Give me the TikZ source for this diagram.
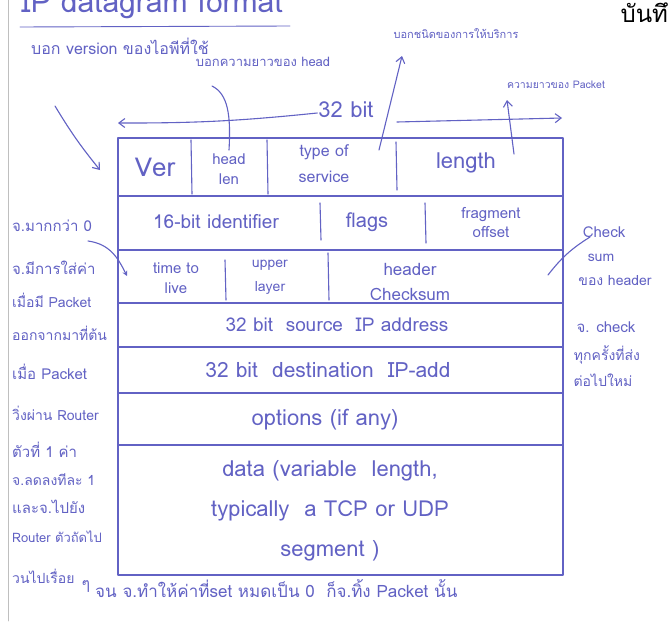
\documentclass[tikz,border=0pt]{standalone}
\usepackage{fontspec}
\setmainfont[Script=Thai]{Loma}
\usepackage{xcolor}
\usetikzlibrary{arrows.meta,positioning,calc}
\definecolor{ink}{RGB}{98,98,196}
\tikzset{note/.style={text=ink,inner sep=1pt,font=\fontsize{14}{16}\selectfont},
cell/.style={text=ink,inner sep=1pt,align=center,font=\fontsize{17}{20}\selectfont},
pen/.style={draw=ink,line width=1.1pt},
%open hand drawn tip
barb/.style={-{Straight Barb[length=6pt,width=9pt]}}}

\begin{document}
\begin{tikzpicture}[x=1pt,y=-1pt,line cap=round,line join=round]
\useasboundingbox (0,0) rectangle (668,621);
\clip (0,0) rectangle (668,621);
\fill[white] (0,0) rectangle (668,621);

%PAGE EDGE AND TITLE
\draw[black!25,line width=0.8pt] (8,0) -- (8,621);
\node[text=ink,font=\fontsize{30}{30}\selectfont] (title) at (152,5) {IP datagram format};
\node[anchor=west,font=\fontsize{24}{24}\selectfont] (book) at (617,13) {บันทึก};
\draw[pen,line width=0.9pt] (20,27) -- (290,26);

%DRAWING TABLE
\draw[pen] (118,138) rectangle (563,575);
\foreach \y in {196,250,303,347,393,445}
  \draw[pen] (118,\y) -- (563,\y);
\draw[pen] (191,140) -- (192,194);
\draw[pen] (267,140) -- (268,194);
\draw[pen] (396,142) -- (397,190);
\draw[pen] (320,203) -- (321,240);
\draw[pen] (425,203) -- (426,243);
\draw[pen] (225,260) -- (226,300);
\draw[pen] (328,253) -- (329,300);

%CELL TEXTS
\node[cell,font=\fontsize{26}{26}\selectfont] (ver) at (155,167) {Ver};
\node[cell,font=\fontsize{15}{20}\selectfont] (hlen) at (229,169) {head\\len};
\node[cell,font=\fontsize{16}{26}\selectfont] (tos) at (324,164) {type of\\service};
\node[cell,font=\fontsize{22}{22}\selectfont] (len) at (466,163) {length};
\node[cell,font=\fontsize{19}{20}\selectfont] (ident) at (216,222) {16-bit identifier};
\node[cell,font=\fontsize{20}{20}\selectfont] (flags) at (367,222) {flags};
\node[cell,font=\fontsize{15}{19}\selectfont] (frag) at (491,222) {fragment\\offset};
\node[cell,font=\fontsize{15}{20}\selectfont] (ttl) at (176,278) {time to\\live};
\node[cell,font=\fontsize{14}{24}\selectfont] (upper) at (270,277) {upper\\layer};
\node[cell,font=\fontsize{17}{25}\selectfont] (hcs) at (410,282) {header\\Checksum};
\node[cell,font=\fontsize{19}{20}\selectfont] (src) at (337,325) {32 bit\ \ source\ \ IP address};
\node[cell,font=\fontsize{21}{22}\selectfont] (dst) at (328,370) {32 bit\ \ destination\ \ IP-add};
\node[cell,font=\fontsize{22}{22}\selectfont] (opt) at (325,420) {options (if any)};
\node[cell,font=\fontsize{22}{40}\selectfont] (data) at (330,511) {data (variable\ \ length,\\typically\ \ a TCP\ or\ UDP\\segment )};

%32 BIT ARROW
\node[cell,font=\fontsize{22}{22}\selectfont] (bits) at (346,110) {32 bit};
\coordinate (bitsW) at (118,123);
\coordinate (bitsEs) at (397,122);
\coordinate (bitsE) at (562,118);
\draw[pen,barb] ([yshift=-3pt]bits.west) to[bend left=3] (bitsW);
\draw[pen,barb] (bitsEs) -- (bitsE);

%TOP NOTES
\node[note,font=\fontsize{16}{16}\selectfont] (vernote) at (120,46) {บอก version ของไอพีที่ใช้};
\node[note,font=\fontsize{13}{13}\selectfont] (headnote) at (263,62) {บอกความยาวของ head};
\node[note,font=\fontsize{11}{11}\selectfont] (typenote) at (456,34) {บอกชนิดของการให้บริการ};
\node[note,font=\fontsize{10.5}{11}\selectfont] (pktnote) at (556,85) {ความยาวของ Packet};

\coordinate (verFrom) at (55,106);
\coordinate (verTo) at (100,170);
\draw[pen,barb] (verFrom) to[bend right=4] (verTo);
\coordinate (headFrom) at (212,86);
\coordinate (headTo) at (229,150);
\draw[pen] (headFrom) .. controls (228,94) and (231,115) .. (headTo);
\coordinate (typeFrom) at (379,150);
\coordinate (typeTo) at (402,56);
\draw[pen,barb] (typeFrom) -- (typeTo);
\coordinate (pktFrom) at (514,154);
\coordinate (pktTo) at (507,100);
\draw[pen,barb] (pktFrom) -- (pktTo);

%RIGHT NOTES
\node[note,font=\fontsize{15}{15}\selectfont] (chk) at (604,232) {Check};
\node[note] (sum) at (601,258) {sum};
\node[note] (ofhead) at (615,281) {ของ header};
\node[note,font=\fontsize{15}{15}\selectfont] (mustchk) at (606,327) {จ. check};
\node[note] (every) at (607,355) {ทุกครั้งที่ส่ง};
\node[note] (again) at (603,380) {ต่อไปใหม่};
\coordinate (chkFrom) at (548,275);
\coordinate (chkTo) at (590,237);
\draw[pen] (chkFrom) to[bend left=10] (chkTo);

%LEFT NOTES ON TTL
\node[note,anchor=west,font=\fontsize{15}{15}\selectfont] (l1) at (11,226) {จ.มากกว่า 0};
\node[note,anchor=west,font=\fontsize{15}{15}\selectfont] (l2) at (11,268) {จ.มีการใส่ค่า};
\node[note,anchor=west] (l3) at (11,300) {เมื่อมี Packet};
\node[note,anchor=west] (l4) at (11,333) {ออกจากมาที่ต้น};
\node[note,anchor=west,font=\fontsize{15}{15}\selectfont] (l5) at (11,372) {เมื่อ Packet};
\node[note,anchor=west] (l6) at (11,413) {วิ่งผ่าน Router};
\node[note,anchor=west,font=\fontsize{15}{15}\selectfont] (l7) at (11,450) {ตัวที่ 1 ค่า};
\node[note,anchor=west] (l8) at (11,480) {จ.ลดลงทีละ 1};
\node[note,anchor=west,font=\fontsize{15}{15}\selectfont] (l9) at (11,507) {และจ.ไปยัง};
\node[note,anchor=west,font=\fontsize{13}{13}\selectfont] (l10) at (11,537) {Router ตัวถัดไป};
\node[note,anchor=west] (l11) at (11,576) {วนไปเรื่อย};
\node[note,font=\fontsize{16}{16}\selectfont] (rep) at (86,586) {ๆ};
\node[note,anchor=west,font=\fontsize{17}{17}\selectfont] (l12) at (94,589) {จน จ.ทำให้ค่าที่set หมดเป็น 0\ \ ก็จ.ทิ้ง Packet นั้น};

\coordinate (ttlFrom) at (88,241);
\coordinate (ttlTo) at (127,276);
\draw[pen,-{Stealth[length=5pt,width=5pt]}] (ttlFrom) .. controls (110,244) and (118,258) .. (ttlTo);
\end{tikzpicture}
\end{document}
